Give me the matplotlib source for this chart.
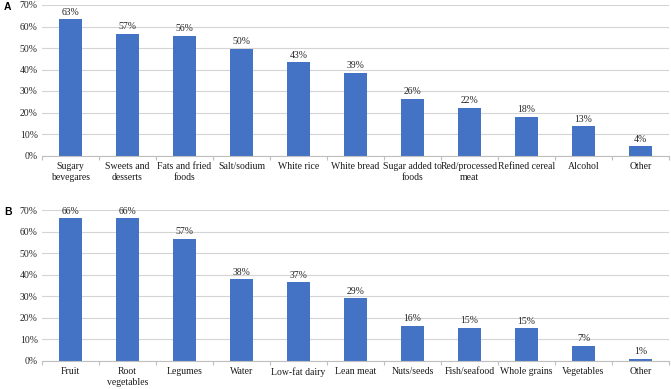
import numpy as np
from matplotlib import pyplot as plt

# panel A: foods to limit
cats_a = ["Sugary\nbevegares", "Sweets and\ndesserts", "Fats and fried\nfoods", "Salt/sodium",
          "White rice", "White bread", "Sugar added to\nfoods", "Red/processed\nmeat",
          "Refined cereal", "Alcohol", "Other"]
vals_a = [63.3, 56.6, 55.8, 49.7, 43.4, 38.6, 26.4, 22.2, 17.9, 13.5, 4.3]
labs_a = ["63%", "57%", "56%", "50%", "43%", "39%", "26%", "22%", "18%", "13%", "4%"]

# panel B: foods to increase
cats_b = ["Fruit", "Root\nvegetables", "Legumes", "Water", "Low-fat dairy", "Lean meat",
          "Nuts/seeds", "Fish/seafood", "Whole grains", "Vegetables", "Other"]
vals_b = [66.1, 66.1, 56.6, 37.9, 36.5, 29.0, 16.2, 15.3, 15.1, 7.0, 1.0]
labs_b = ["66%", "66%", "57%", "38%", "37%", "29%", "16%", "15%", "15%", "7%", "1%"]

plt.rcParams['font.family'] = ['Liberation Serif', 'DejaVu Serif']
fig = plt.figure(figsize=(6.71, 3.89), dpi=100)

def panel(rect, cats, vals, labs, letter):
    ax = fig.add_axes(rect)
    x = np.arange(len(cats))
    ax.bar(x, vals, width=0.39, color='#4472C4', zorder=3)
    for xi, v, l in zip(x, vals, labs):
        ax.text(xi, v + 1.2, l, ha='center', va='bottom', fontsize=7, color='#262626')
    ax.set_xlim(-0.5, len(cats) - 0.5)
    ax.set_ylim(0, 70)
    ax.set_yticks(range(0, 71, 10))
    ax.set_yticklabels([f"{t}%" for t in range(0, 71, 10)], fontsize=7, color='#262626')
    ax.yaxis.grid(True, color='#D4D4D4', linewidth=0.8, zorder=0)
    ax.set_xticks(x)
    ax.set_xticklabels(cats, fontsize=7, color='#1a1a1a', linespacing=1.25)
    ax.tick_params(axis='x', length=0, pad=4.5)
    ax.tick_params(axis='y', length=0, pad=3)
    # excel-like ticks at category boundaries
    ax.set_xticks(np.arange(-0.5, len(cats), 1.0), minor=True)
    ax.tick_params(axis='x', which='minor', length=3, color='#BFBFBF', width=0.8)
    for s in ['top', 'right', 'left']:
        ax.spines[s].set_visible(False)
    ax.spines['bottom'].set_color('#BFBFBF')
    ax.spines['bottom'].set_linewidth(0.8)
    ax.spines['bottom'].set_zorder(4)
    fig.text(0.006, rect[1] + rect[3] - 0.005, letter, fontsize=7.5, fontweight='bold',
             family='Liberation Sans', va='center')
    return ax

panel([42 / 671, 1 - 155.5 / 389, 627 / 671, 150.5 / 389], cats_a, vals_a, labs_a, "A")
panel([42 / 671, 1 - 360.7 / 389, 627 / 671, 150.7 / 389], cats_b, vals_b, labs_b, "B")

fig.savefig('out.png', dpi=100)
